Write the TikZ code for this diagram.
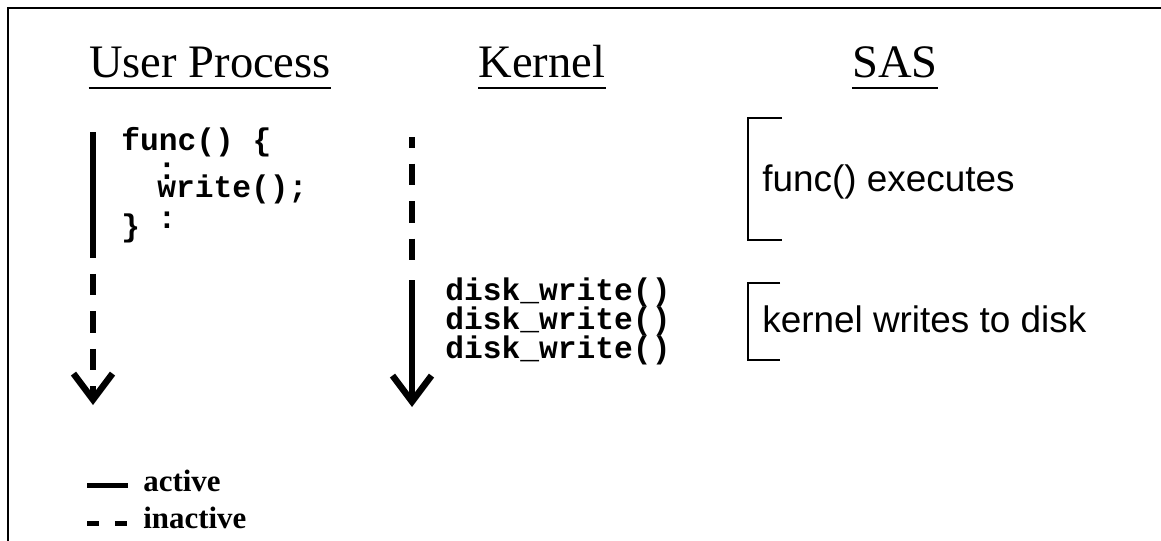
\documentclass[tikz,border=0pt]{standalone}
\usepackage{fontspec}
\setmainfont{Liberation Serif}
\setsansfont{Liberation Sans}
\newfontfamily\codefont{Liberation Mono}
\usetikzlibrary{arrows.meta}

\begin{document}
\begin{tikzpicture}[x=0.02cm,y=-0.02cm,
    title/.style={anchor=base,inner sep=0pt,font=\fontsize{26.5}{30}\selectfont},
    code/.style={inner sep=0pt,font=\codefont\bfseries\fontsize{17.8}{20}\selectfont},
    note/.style={anchor=base west,inner sep=0pt,font=\sffamily\fontsize{21}{24}\selectfont},
    key/.style={anchor=base west,inner sep=0pt,font=\bfseries\fontsize{17.6}{20}\selectfont},
    live/.style={line width=0.13cm},
    idle/.style={line width=0.13cm,dash pattern=on 0.43cm off 0.32cm},
    tip/.style={-{Straight Barb[length=0.52cm,width=0.78cm]}},
    brack/.style={line width=0.055cm}]
  \useasboundingbox (0,0) rectangle (1161,541);
  % frame
  \draw[line width=0.04cm] (1170,8)--(8,8)--(8,550);

  % column heads
  \node[title] (usr) at (210,77) {User Process};
  \node[title] (krn) at (542,77) {Kernel};
  \node[title] (sas) at (895,77) {SAS};
  \foreach \t in {usr,krn,sas}
    \draw[line width=0.04cm] ([yshift=-0.23cm]\t.base west)--([yshift=-0.23cm]\t.base east);

  %%%%%%%%%%%%%%%%%%%%%%%%%%%%%%%%%%% user process
  \coordinate (usrTop) at (93,132);
  \coordinate (usrMid) at (93,258);
  \coordinate (usrEnd) at (93,405);
  \draw[live] (usrTop)--(usrMid);
  \draw[idle,dash phase=0.43cm,tip] (usrMid)--(usrEnd);

  \node[code,anchor=base west] (fn) at (121,150) {func() \{};
  \node[code,anchor=base] (dotA) at (167,179) {:};
  \node[code,anchor=base west] (wr) at (157,197) {write();};
  \node[code,anchor=base] (dotB) at (167,228) {:};
  \node[code,anchor=base west] (cb) at (121,236) {\}};

  %%%%%%%%%%%%%%%%%%%%%%%%%%%%%%%%%%% kernel
  \coordinate (krnTop) at (412,137);
  \coordinate (krnMid) at (412,263);
  \coordinate (krnGo) at (412,280);
  \coordinate (krnEnd) at (412,407);
  \draw[idle,dash phase=0.215cm] (krnTop)--(krnMid);
  \draw[live,tip] (krnGo)--(krnEnd);

  \foreach \y/\n in {300/1,329/2,358/3}
    \node[code,anchor=base west] (dw\n) at (445,\y) {disk\_write()};

  %%%%%%%%%%%%%%%%%%%%%%%%%%%%%%%%%%% SAS
  \draw[brack] (782,118)--(748,118)--(748,240)--(782,240);
  \node[note] (exe) at (762,191) {func() executes};
  \draw[brack] (780,283)--(748,283)--(748,360)--(780,360);
  \node[note] (dsk) at (762,332) {kernel writes to disk};

  %%%%%%%%%%%%%%%%%%%%%%%%%%%%%%%%%%% legend
  \draw[line width=0.1cm] (87,485)--(128,485);
  \node[key] (act) at (143,491) {active};
  \draw[line width=0.1cm,dash pattern=on 0.24cm off 0.32cm] (87,523)--(128,523);
  \node[key] (ina) at (143,528) {inactive};
\end{tikzpicture}
\end{document}
